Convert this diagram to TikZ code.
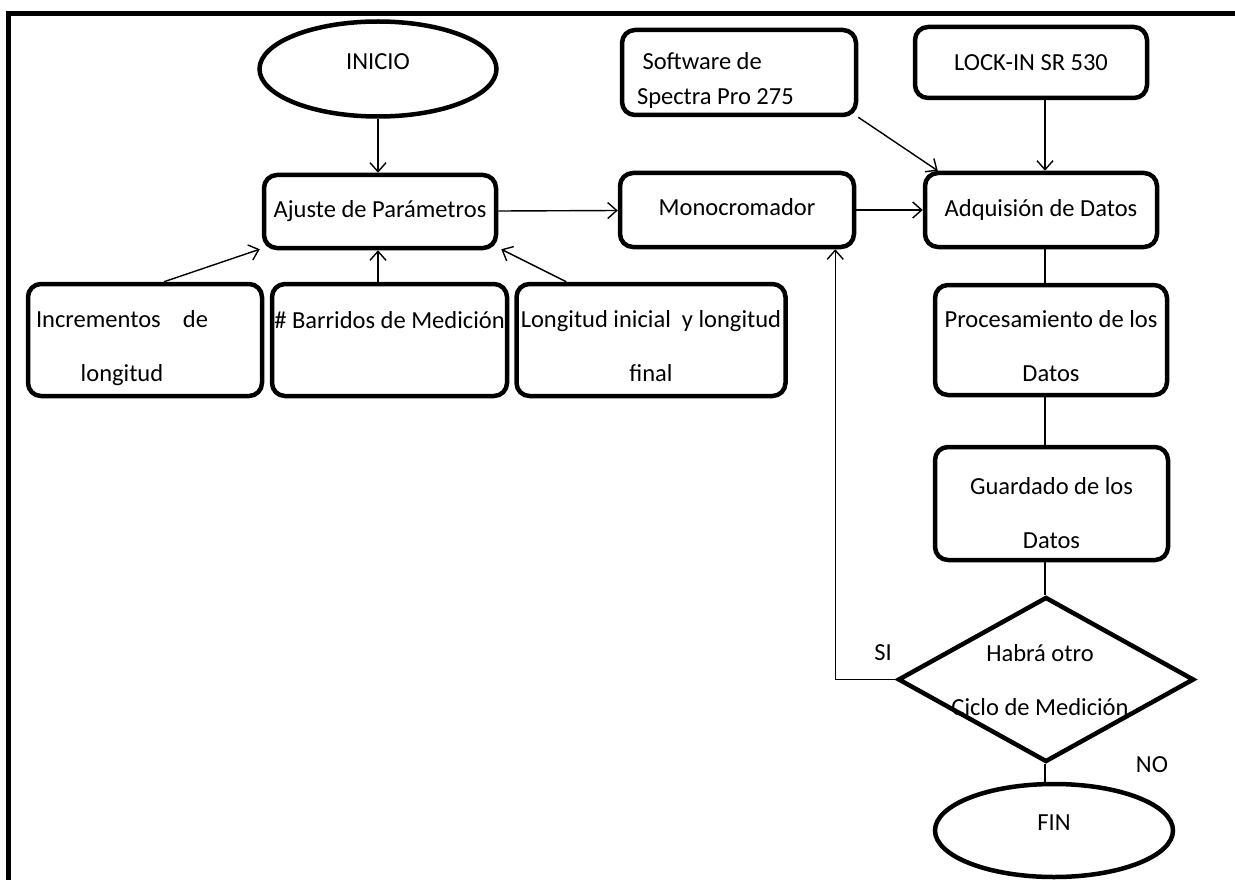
\documentclass[tikz,border=0pt]{standalone}
\usepackage{fontspec}
\setmainfont{Carlito}
\usetikzlibrary{arrows.meta,shapes.geometric,calc}
\newcommand{\firstup}[1]{\rule{0pt}{#1pt}}
\begin{document}
\begin{tikzpicture}[x=1pt,y=-1pt,
  every node/.style={font=\fontsize{24.5}{54}\selectfont,align=center},
  box/.style={draw,line width=4.5pt,rounded corners=13pt,inner sep=0pt},
  term/.style={draw,ellipse,line width=4.5pt,inner sep=0pt},
  conn/.style={line width=1.4pt},
  arr/.style={conn,-{Straight Barb[length=9pt,width=16pt]}}
]
\useasboundingbox (0,0) rectangle (1235,880);
\draw[line width=5pt] (8,880) -- (8,14) -- (1235,14);

\node[term,minimum width=237pt,minimum height=95pt,text height=16pt,text depth=15pt] (inicio) at (378,69) {INICIO};
\node[box,minimum width=232pt,minimum height=73pt] (ajuste) at (380,211.5) {Ajuste de Parámetros};
\node[box,minimum width=234pt,minimum height=74pt,text depth=6pt] (mono) at (737,210) {Monocromador};
\node[box,minimum width=232pt,minimum height=74pt] (adq) at (1041,210) {Adquisión de Datos};
\node[box,minimum width=234pt,minimum height=85pt,text width=204pt,align=left,
      font=\fontsize{24.5}{35}\selectfont] (soft) at (739,72.5) {\spaceskip=0pt\relax\firstup{32}\ Software de\\Spectra Pro 275};
\node[box,minimum width=232pt,minimum height=71pt] (lock) at (1031,62.5) {LOCK-IN SR 530};
\node[box,minimum width=234pt,minimum height=112pt] (inc) at (145,340) {\firstup{34}Incrementos\ \ \ \ de\hspace*{46pt}\\longitud\hspace*{46pt}};
\node[box,minimum width=235pt,minimum height=112pt] (bar) at (389.5,340) {\firstup{30}\# Barridos de Medición\\\mbox{}};
\node[box,minimum width=269pt,minimum height=112pt] (long) at (651,340) {\firstup{30}Longitud inicial\ \ y longitud\\final};
\node[box,minimum width=232pt,minimum height=110pt] (proc) at (1051,340) {\firstup{30}Procesamiento de los\\Datos};
\node[box,minimum width=233pt,minimum height=113pt] (guard) at (1051.5,503.5) {\firstup{36}Guardado de los\\Datos};
\node[draw,diamond,line width=4.5pt,minimum width=296pt,minimum height=165pt,inner sep=0pt] (dec) at (1046,679.5) {};
\node (dectext) at (1040,680) {Habrá otro\\Ciclo de Medición};
\node[term,minimum width=238pt,minimum height=93pt,text height=16pt,text depth=17pt] (fin) at (1054,830.5) {FIN};
\node (si) at (883,653) {SI};
\node (no) at (1152,765) {NO};

\coordinate (spine) at (1045,0);
\draw[arr] (inicio) -- (inicio |- ajuste.north);
\draw[arr] (ajuste) -- (mono);
\draw[arr] (mono) -- (adq);
\draw[arr] (soft.south east) -- ($(adq.north west)+(15,0)$);
\draw[arr] (lock.south -| spine) -- (adq.north -| spine);
\draw[arr] ($(inc.north)+(19,0)$) -- ($(ajuste.south west)+(-2,-1)$);
\draw[arr] (bar.north -| inicio) -- (ajuste.south -| inicio);
\draw[arr] ($(long.north west)+(52,0)$) -- ($(ajuste.south east)+(3,-1)$);
\draw[conn] (adq.south -| spine) -- (proc.north -| spine);
\draw[conn] (proc.south -| spine) -- (guard.north -| spine);
\draw[conn] (guard.south -| spine) -- (dec.north -| spine);
\draw[arr] (dec.west) -| ($(mono.south east)+(-21,0)$);
\draw[conn] (dec.south -| spine) -- (fin.north -| spine);
\end{tikzpicture}
\end{document}
